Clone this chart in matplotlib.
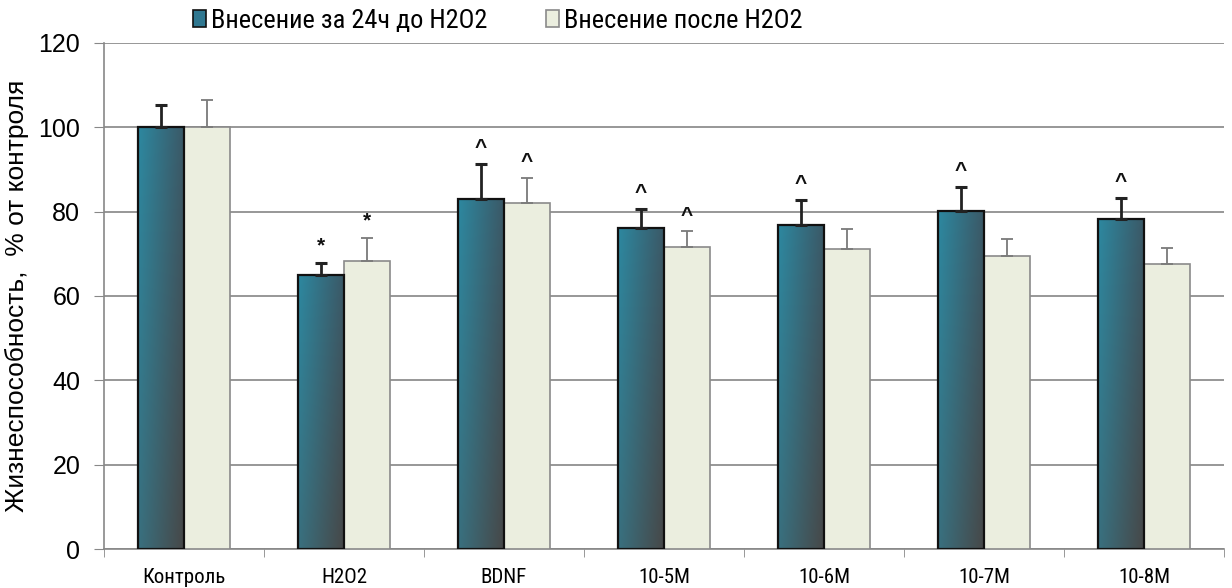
import matplotlib.pyplot as plt
import numpy as np
from matplotlib.patches import Rectangle
from matplotlib.colors import to_rgb

categories = ["Контроль", "H2O2", "BDNF", "10-5M", "10-6M", "10-7M", "10-8M"]
before = [100, 65, 83, 76.2, 76.8, 80.1, 78.3]
before_err = [5.3, 2.9, 8.4, 4.4, 6.0, 5.8, 5.0]
after = [100, 68.4, 82.1, 71.7, 71.1, 69.6, 67.7]
after_err = [6.5, 5.4, 6.0, 3.6, 4.7, 4.0, 3.8]
before_marks = ["", "*", "^", "^", "^", "^", "^"]
after_marks = ["", "*", "^", "^", "", "", ""]
legend_labels = ["Внесение за 24ч до H2O2", "Внесение после H2O2"]

narrow = ["Roboto Condensed", "DejaVu Sans"]
plt.rcParams["font.family"] = ["Liberation Sans", "DejaVu Sans"]

fig = plt.figure(figsize=(12.32, 5.88), dpi=100)
ax = fig.add_axes([0.0844, 0.0663, 0.9091, 0.8606])

x = np.arange(len(categories))
w = 0.2875

# gradient for the dark bars: teal at top-left, dark grey at bottom-right
tl, tr = np.array(to_rgb("#2d88a0")), np.array(to_rgb("#3b5866"))
bl, br = np.array(to_rgb("#39707f")), np.array(to_rgb("#474747"))
gx = np.linspace(0, 1, 64)[None, :, None]
gy = np.linspace(0, 1, 64)[:, None, None]
grad = (1 - gy) * ((1 - gx) * tl + gx * tr) + gy * ((1 - gx) * bl + gx * br)

for xi, v in zip(x, before):
    x0 = xi - w
    rect = Rectangle((x0, 0), w, v, facecolor="none", edgecolor="#111111",
                     lw=1.6, zorder=4)
    ax.add_patch(rect)
    im = ax.imshow(grad, extent=(x0, xi, 0, v), origin="upper", aspect="auto",
                   zorder=3, interpolation="bilinear")
    im.set_clip_path(rect)

ax.bar(x + w / 2, after, w, color="#ebeedf", edgecolor="#8a8a8a", lw=1.2, zorder=3)

ax.errorbar(x - w / 2, before, yerr=[np.zeros(len(before)), before_err], fmt="none",
            ecolor="#222222", elinewidth=2, capsize=4.5, capthick=2.2, zorder=5)
ax.errorbar(x + w / 2, after, yerr=[np.zeros(len(after)), after_err], fmt="none",
            ecolor="#7a7a7a", elinewidth=1.3, capsize=4, capthick=1.3, zorder=5)

for xi, v, e, m in zip(x, before, before_err, before_marks):
    if m:
        ax.annotate(m, (xi - w / 2, v + e), xytext=(0, 5), textcoords="offset points",
                    ha="center", va="bottom", fontsize=15, fontweight="bold", color="#111111")
for xi, v, e, m in zip(x, after, after_err, after_marks):
    if m:
        ax.annotate(m, (xi + w / 2, v + e), xytext=(0, 5), textcoords="offset points",
                    ha="center", va="bottom", fontsize=15, fontweight="bold", color="#111111")

ax.set_xlim(-0.5, len(categories) - 0.5)
ax.set_ylim(0, 120)
ax.set_yticks(range(0, 121, 20))
ax.yaxis.grid(True, color="#858585", lw=1.2)
ax.set_axisbelow(True)
ax.tick_params(axis="y", labelsize=18, length=7, color="#888888", pad=10)
ax.set_xticks(x)
ax.set_xticklabels(categories, family=narrow, fontsize=15)
ax.set_xticks(np.arange(-0.5, len(categories)), minor=True)
ax.tick_params(axis="x", which="major", length=0, pad=14)
ax.tick_params(axis="x", which="minor", length=6, color="#888888")
for s in ["top", "right"]:
    ax.spines[s].set_visible(False)
for s in ["left", "bottom"]:
    ax.spines[s].set_color("#888888")
    ax.spines[s].set_linewidth(1.2)

ax.set_ylabel("Жизнеспособность,  % от контроля", fontsize=19, labelpad=7)

h1 = Rectangle((0, 0), 1, 1, facecolor="#2f7790", edgecolor="#111111", lw=1.2)
h2 = Rectangle((0, 0), 1, 1, facecolor="#ebeedf", edgecolor="#8a8a8a", lw=1.2)
fig.legend([h1, h2], legend_labels, loc="center", bbox_to_anchor=(0.404, 0.965),
           ncol=2, frameon=False, prop={"family": narrow, "size": 19},
           handlelength=0.5, handleheight=0.6, handletextpad=0.2, columnspacing=2.2)

fig.savefig("out.png", dpi=100)
